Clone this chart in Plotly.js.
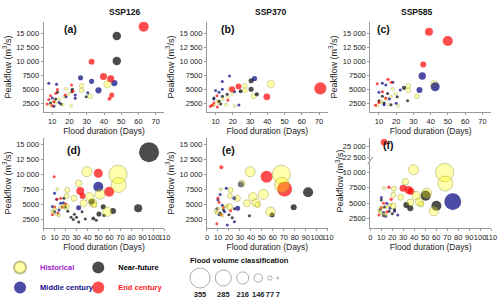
<!DOCTYPE html>
<html><head><meta charset="utf-8">
<script src="https://cdn.plot.ly/plotly-3.0.1.min.js"></script>
<style>html,body{margin:0;padding:0;background:#fff}#chart{width:500px;height:302px}</style>
</head><body><div id="chart"></div>
<script>
// ---- data: [flood duration (days), peakflow (m3/s), flood volume] ----
const histTop = [[42,5950,130],[27,5650,85],[27,4850,85],[32,3800,85],[18,5100,55],[19.5,4250,50],[17,3700,45],[21,2100,35],[16,2300,25],[12,2600,20],[9,2200,15],[14,3300,20],[11,2900,15]];
const a_near = [[47.4,14500,150],[47.4,10050,150],[21.6,5000,60],[21.4,4600,55],[29.7,3700,40],[13,4500,20],[12,3300,15],[9,2600,10],[15,2400,12]];
const a_mid = [[26.4,7100,90],[32.8,6450,90],[46,6150,110],[36.8,4850,110],[30.6,4400,55],[23.3,4000,55],[23.3,3450,55],[12.5,5950,30],[8,6100,20],[18,3700,30],[14,2700,20],[11,2000,15],[10,3500,15]];
const a_end = [[63,16170,180],[32.8,9950,105],[39.7,7300,125],[43.9,6900,125],[44.5,4000,90],[43.2,3350,70],[21.2,5800,50],[22,4700,45],[17.5,4000,40],[13,5000,25],[12,4300,20],[9,3900,15],[11,2800,12],[8,3200,12],[10,2100,10],[7,2400,8]];
const b_near = [[30.6,6550,90],[30.6,5050,90],[33.9,4150,75],[24.5,4700,70],[16.7,4150,45],[14,3800,25],[12,2900,15],[9,3500,12],[13,2400,12]];
const b_mid = [[32.6,6950,90],[18.1,7400,45],[13.9,6400,50],[13.9,5050,45],[21,4600,55],[23.5,2250,45],[10,4800,20],[12,4500,15],[9,3300,12]];
const b_end = [[70.7,5200,215],[39.7,3700,120],[23.3,5550,105],[19.6,5050,105],[17.1,3100,40],[10.8,3900,30],[9,2600,15],[7,2000,12],[11,1900,12],[8,2200,10]];
const c_near = [[24.5,5300,75],[26.6,3000,50],[20.6,3700,40],[15,4300,25],[12,3800,20],[10,3000,15],[13,2600,15],[17,2300,12]];
const c_mid = [[35.1,7400,130],[42.6,5500,160],[33.5,4900,107],[22.4,4900,50],[18.1,6300,45],[20,2550,40],[12,6100,25],[14,5800,20],[10,4500,15],[16,3300,15],[13,2300,12]];
const c_end = [[39,15280,142],[49.9,13620,178],[35.7,9450,107],[15.2,6800,60],[17.1,6300,55],[12,4600,25],[9,6000,15],[14,3500,15],[10,2700,12],[8,2200,10]];

const histBot = [[67.7,9950,325],[68.3,8170,266],[39.4,10380,178],[31.9,8450,118],[51.3,6620,178],[41.8,6220,148],[36.4,5120,124],[44.7,5220,142],[46.2,4830,100],[57.9,3720,165],[27.7,5950,106],[21.5,7330,89],[20.9,6330,89],[20.6,4550,106],[12.5,7450,50],[10,4200,60],[9,3500,55],[12,3300,50],[15,4400,45],[18,4700,55],[8,3800,40],[14,3100,40]];
const d_near = [[96,13620,355],[86.1,4280,142],[63.2,3830,107],[54.3,4550,90],[50.4,3330,90],[45.3,2600,70],[55,3100,60],[43.8,5390,107],[18.5,5950,50],[35,3700,40],[30,2800,45],[38,2500,40],[27,2400,35],[25,2800,30],[32,2000,30],[22,3800,30],[20,4500,40],[48,2300,35],[28,3300,30]];
const d_mid = [[49.8,7880,178],[31.9,4380,89],[15.5,5120,50],[10,6800,25],[12,5800,30],[8,4600,20],[14,4000,25],[18,5200,20],[10,3700,20]];
const d_end = [[49.8,10120,160],[59.7,7050,178],[33.4,7170,142],[35.5,6330,107],[9.6,9550,45],[15.5,5950,50],[12,5800,40],[17,4500,40],[10,4500,30],[20,5000,35],[13,3500,25],[8,3200,20]];
const e_near = [[92.1,6950,178],[79,4450,107],[59.3,3170,89],[38.7,3050,55],[20,3200,30],[23,2700,30],[15,4000,25],[12,3500,20],[25,4200,25]];
const e_mid = [[31,8280,107],[28,4280,89],[25,5950,70],[17.6,7620,55],[25,2050,50],[18.5,1500,40],[12,6600,30],[10,5700,25],[14,4800,30],[9,4200,20],[16,3700,25],[11,3200,20]];
const e_end = [[54.3,9550,213],[70.7,7500,266],[13.1,11120,70],[21.5,3880,55],[10,6000,35],[11,5300,30],[15,4400,30],[9,1700,20],[13,3200,20]];
const f_near = [[60.2,4600,178],[50.4,6220,178],[32.8,4720,107],[36.4,4180,107],[10,5500,30],[13,4400,35],[17,3700,30],[22,4000,30],[20,3300,25],[12,3000,20]];
const f_mid = [[75.1,5250,300],[10.1,5900,30],[15,5000,30],[18,4200,35],[22,3700,30],[25,3100,30],[9,4000,20],[12,3500,25],[14,2900,20]];
const f_end = [[12.5,25790,118],[29.8,7410,124],[34.9,7140,142],[37,6900,120],[17,7560,60],[19,5620,60],[12,5000,35],[10,4300,25],[15,3600,25],[8,3100,20]];

const volumeClasses = [355,285,216,146,77,7];
const scenarios = ['SSP126','SSP370','SSP585'];
const panelLabels = ['(a)','(b)','(c)','(d)','(e)','(f)'];
const xTicksTop = [10,20,30,40,50,60,70];
const xTicksBot = [0,10,20,30,40,50,60,70,80,90,100,110];
const yTicks = [2500,5000,7500,10000,12500,15000];
const yTickText = ['2500','5000','7500','10 000','12 500','15 000'];
const yTicksLow = [2500,5000,7500,10000];
const yTickTextLow = ['2500','5000','7500','10 000'];
const yTicksHigh = [22500,25000];
const yTickTextHigh = ['22 500','25 000'];

// ---- styling ----
const FONT = 'Liberation Sans, Arial, sans-serif';
const SIZEREF = 17.75;
const W = 500, H = 302;
const styles = {
  near: () => ({color:'#000000', line:{width:0}}),
  mid:  () => ({color:'#000080', line:{width:0}}),
  end:  () => ({color:'#ff0000', line:{width:0}}),
  histTop: () => ({color:'#ffff80', line:{color:'#a5a55a', width:0.6}}),
  histBot: () => ({color:'rgba(255,255,0,0.45)', line:{color:'rgba(140,140,40,0.85)', width:0.7}})
};
function tr(arr, style, xa, ya, extra){
  return Object.assign({
    type:'scatter', mode:'markers',
    x: arr.map(p=>p[0]), y: arr.map(p=>p[1]),
    xaxis: xa, yaxis: ya,
    marker: Object.assign({size: arr.map(p=>p[2]), sizemode:'diameter', sizeref:SIZEREF, sizemin:1.5}, style),
    showlegend:false, hoverinfo:'skip'
  }, extra||{});
}
const names = {
  hist:'<b><span style="color:#a020c8">Historical</span></b>',
  near:'<b><span style="color:#000000">Near-future</span></b>',
  mid:'<b><span style="color:#10108a">Middle century</span></b>',
  end:'<b><span style="color:#ff1a1a">End century</span></b>'
};
function lg(key, legend, rank, show){ return {legendgroup:key, legend:legend, legendrank:rank, showlegend:!!show, name:names[key]}; }

const data = [];
// top row: historical drawn first
const topSets = [[a_near,a_mid,a_end],[b_near,b_mid,b_end],[c_near,c_mid,c_end]];
topSets.forEach((s,i)=>{
  const xa = 'x'+(i+1), ya = 'y'+(i+1);
  data.push(tr(histTop, styles.histTop(), xa, ya, lg('hist','legend',1,i===0)));
  data.push(tr(s[0], styles.near(), xa, ya, lg('near','legend2',1,i===0)));
  data.push(tr(s[1], styles.mid(), xa, ya, lg('mid','legend',2,i===0)));
  data.push(tr(s[2], styles.end(), xa, ya, lg('end','legend2',2,i===0)));
});
// bottom row: historical translucent, drawn on top
const botSets = [[d_near,d_mid,d_end],[e_near,e_mid,e_end],[f_near,f_mid,f_end]];
botSets.forEach((s,i)=>{
  const xa = 'x'+(i+4), ya = 'y'+(i+4);
  if(i<2){
    data.push(tr(s[0], styles.near(), xa, ya, lg('near','legend2',1,false)));
    data.push(tr(s[1], styles.mid(), xa, ya, lg('mid','legend',2,false)));
    data.push(tr(s[2], styles.end(), xa, ya, lg('end','legend2',2,false)));
    data.push(tr(histBot, styles.histBot(), xa, ya, lg('hist','legend',1,false)));
  } else {
    // broken y axis: split points between lower (y6) and upper (y7) segments
    const split = (arr, hi) => arr.filter(p => hi ? p[1] > 20000 : p[1] <= 20000);
    [[s[0],'near','legend2',1],[s[1],'mid','legend',2],[s[2],'end','legend2',2]].forEach(([arr,k,l,r])=>{
      const lo = split(arr,false), up = split(arr,true);
      if(lo.length) data.push(tr(lo, styles[k](), 'x6', 'y6', lg(k,l,r,false)));
      if(up.length) data.push(tr(up, styles[k](), 'x6', 'y7', lg(k,l,r,false)));
    });
    data.push(tr(histBot, styles.histBot(), 'x6', 'y6', lg('hist','legend',1,false)));
  }
});

// flood-volume size legend (x8/y8 in pixel-like units)
const gap = 5.5;
const volX = [];
volumeClasses.forEach((v,i)=>{
  if(i===0) volX.push(12);
  else volX.push(volX[i-1] + volumeClasses[i-1]/SIZEREF/2 + gap + v/SIZEREF/2);
});
data.push({type:'scatter', mode:'markers', x:volX, y:volumeClasses.map(()=>24), xaxis:'x8', yaxis:'y8',
  marker:{size:volumeClasses, sizemode:'diameter', sizeref:SIZEREF, sizemin:1, color:'rgba(255,255,255,0)', line:{color:'#8a8a8a', width:1}},
  showlegend:false, hoverinfo:'skip'});
data.push({type:'scatter', mode:'text', x:volX, y:volumeClasses.map(()=>7), text:volumeClasses.map(v=>'<b>'+v+'</b>'),
  xaxis:'x8', yaxis:'y8', textfont:{family:FONT, size:7.5, color:'#222'}, showlegend:false, hoverinfo:'skip'});

// ---- layout ----
const px = v => v/W, py = v => 1 - v/H;
const cols = [[39,161],[204,326],[369,491]];
const axBase = () => ({showgrid:false, zeroline:false, showline:true, linecolor:'#9a9a9a', linewidth:1,
  ticks:'outside', ticklen:2, tickcolor:'#9a9a9a', tickfont:{family:FONT, size:7.5, color:'#222'}, fixedrange:true, tickangle:0});
const xTitle = () => ({text:'Flood duration (Days)', font:{family:FONT, size:8.5, color:'#222'}, standoff:3});
const yTitle = () => ({text:'Peakflow (m<sup>3</sup>/s)', font:{family:FONT, size:9, color:'#222'}, standoff:3});

const layout = {width:W, height:H, margin:{l:0,r:0,t:0,b:0}, paper_bgcolor:'#fff', plot_bgcolor:'rgba(0,0,0,0)',
  hovermode:false, showlegend:true, annotations:[], shapes:[]};

for(let i=0;i<6;i++){
  const n = i+1, c = cols[i%3], top = i<3;
  const yd = top ? [py(112), py(22)] : [py(228), py(138)];
  layout['xaxis'+n] = Object.assign(axBase(), {domain:[px(c[0]),px(c[1])], anchor:'y'+n,
    range: top ? [5,75] : [0,110], tickvals: top ? xTicksTop : xTicksBot, title:xTitle()});
  const ya = Object.assign(axBase(), {anchor:'x'+n, tickvals:yTicks, ticktext:yTickText});
  if(top || i<5){ ya.domain = yd; ya.range = top ? [1000,17000] : [1000,16000]; ya.title = yTitle(); }
  else { ya.domain = [py(228), py(163)]; ya.range = [1000,11480]; ya.tickvals = yTicksLow; ya.ticktext = yTickTextLow; }
  layout['yaxis'+n] = ya;
}
layout.yaxis7 = Object.assign(axBase(), {anchor:'x6', domain:[py(160), py(138)], range:[22010,26710], tickvals:yTicksHigh, ticktext:yTickTextHigh});
layout.xaxis8 = {domain:[px(185),px(285)], range:[0,100], visible:false, fixedrange:true, anchor:'y8'};
layout.yaxis8 = {domain:[0, 40/H], range:[0,40], visible:false, fixedrange:true, anchor:'x8'};

// titles & panel labels
const titleX = [103,268,433];
scenarios.forEach((s,i)=>layout.annotations.push({text:'<b>'+s+'</b>', x:px(titleX[i]), y:py(12), xref:'paper', yref:'paper',
  yanchor:'middle', showarrow:false, font:{family:FONT, size:8.5, color:'#111'}}));
const labPos = [[58,29],[225,29],[391,29],[61,150],[226,150],[395,145]];
panelLabels.forEach((t,i)=>layout.annotations.push({text:'<b>'+t+'</b>', x:px(labPos[i][0]), y:py(labPos[i][1]), xref:'paper', yref:'paper',
  yanchor:'middle', showarrow:false, font:{family:FONT, size:10.5, color:'#111'}}));
layout.annotations.push({text:'Peakflow (m<sup>3</sup>/s)', textangle:-90, x:px(338), y:py(181), xref:'paper', yref:'paper',
  xanchor:'center', yanchor:'middle', showarrow:false, font:{family:FONT, size:9, color:'#222'}});
layout.annotations.push({text:'<b>Flood volume classification</b>', x:px(237), y:py(260), xref:'paper', yref:'paper',
  xanchor:'center', yanchor:'middle', showarrow:false, font:{family:FONT, size:7.5, color:'#111'}});
// axis break mark on (f)
layout.shapes.push({type:'line', xref:'paper', yref:'paper', x0:px(366.5), y0:py(164), x1:px(371.5), y1:py(157), line:{color:'#777', width:1}});

const legBase = {orientation:'v', traceorder:'grouped', tracegroupgap:1, itemsizing:'constant', bgcolor:'rgba(0,0,0,0)',
  font:{family:FONT, size:7.5, color:'#111'}, xanchor:'left', yanchor:'top', itemclick:false, itemdoubleclick:false};
layout.legend = Object.assign({}, legBase, {x:px(-5), y:py(253)});
layout.legend2 = Object.assign({}, legBase, {x:px(74), y:py(253)});

Plotly.newPlot('chart', data, layout, {staticPlot:true, displayModeBar:false});
</script></body></html>
